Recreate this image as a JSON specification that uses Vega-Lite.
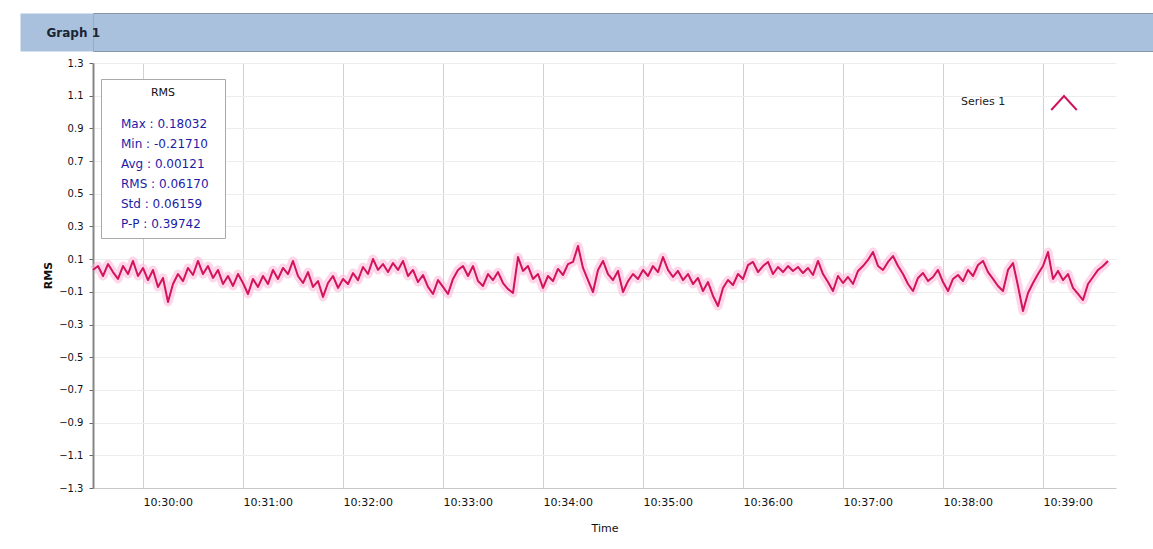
{
  "$schema": "https://vega.github.io/schema/vega-lite/v6.json",
  "padding": {"top": 12, "left": 0, "right": 0, "bottom": 0},
  "background": "#ffffff",
  "spacing": 6,
  "config": {"font": "DejaVu Sans", "view": {"stroke": null}},
  "datasets": {
    "bar": [{"title": "Graph 1"}],
    "stats": [
      {"label": "Max   : 0.18032"},
      {"label": "Min   : -0.21710"},
      {"label": "Avg   : 0.00121"},
      {"label": "RMS   : 0.06170"},
      {"label": "Std   : 0.06159"},
      {"label": "P-P   : 0.39742"}
    ],
    "rms": [
      {"t":0,"v":0.034},{"t":3,"v":0.058},{"t":6,"v":-0.003},{"t":9,"v":0.070},{"t":12,"v":0.021},{"t":15,"v":-0.021},{"t":18,"v":0.058},{"t":21,"v":0.009},{"t":24,"v":0.089},{"t":27,"v":-0.003},
      {"t":30,"v":0.046},{"t":33,"v":-0.028},{"t":36,"v":0.034},{"t":39,"v":-0.070},{"t":42,"v":-0.015},{"t":45,"v":-0.162},{"t":48,"v":-0.052},{"t":51,"v":0.009},{"t":54,"v":-0.034},{"t":57,"v":0.046},
      {"t":60,"v":0.003},{"t":63,"v":0.089},{"t":66,"v":0.009},{"t":69,"v":0.058},{"t":72,"v":-0.015},{"t":75,"v":0.034},{"t":78,"v":-0.052},{"t":81,"v":-0.003},{"t":84,"v":-0.064},{"t":87,"v":0.009},
      {"t":90,"v":-0.046},{"t":93,"v":-0.113},{"t":96,"v":-0.021},{"t":99,"v":-0.070},{"t":102,"v":-0.003},{"t":105,"v":-0.052},{"t":108,"v":0.034},{"t":111,"v":-0.021},{"t":114,"v":0.046},{"t":117,"v":0.009},
      {"t":120,"v":0.089},{"t":123,"v":-0.003},{"t":126,"v":-0.046},{"t":129,"v":0.021},{"t":132,"v":-0.070},{"t":135,"v":-0.034},{"t":138,"v":-0.131},{"t":141,"v":-0.046},{"t":144,"v":-0.003},{"t":147,"v":-0.076},
      {"t":150,"v":-0.021},{"t":153,"v":-0.052},{"t":156,"v":0.015},{"t":159,"v":-0.028},{"t":162,"v":0.052},{"t":165,"v":0.009},{"t":168,"v":0.101},{"t":171,"v":0.034},{"t":174,"v":0.070},{"t":177,"v":0.021},
      {"t":180,"v":0.076},{"t":183,"v":0.034},{"t":186,"v":0.089},{"t":189,"v":-0.003},{"t":192,"v":0.034},{"t":195,"v":-0.040},{"t":198,"v":0.003},{"t":201,"v":-0.070},{"t":204,"v":-0.113},{"t":207,"v":-0.028},
      {"t":210,"v":-0.070},{"t":213,"v":-0.113},{"t":216,"v":-0.021},{"t":219,"v":0.034},{"t":222,"v":0.058},{"t":225,"v":-0.003},{"t":228,"v":0.058},{"t":231,"v":-0.034},{"t":234,"v":-0.064},{"t":237,"v":0.009},
      {"t":240,"v":-0.028},{"t":243,"v":0.021},{"t":246,"v":-0.046},{"t":249,"v":-0.083},{"t":252,"v":-0.107},{"t":255,"v":0.113},{"t":258,"v":0.028},{"t":261,"v":0.058},{"t":264,"v":-0.021},{"t":267,"v":0.009},
      {"t":270,"v":-0.076},{"t":273,"v":-0.003},{"t":276,"v":-0.034},{"t":279,"v":0.040},{"t":282,"v":0.003},{"t":285,"v":0.070},{"t":288,"v":0.083},{"t":291,"v":0.180},{"t":294,"v":0.046},{"t":297,"v":-0.028},
      {"t":300,"v":-0.101},{"t":303,"v":0.034},{"t":306,"v":0.089},{"t":309,"v":0.009},{"t":312,"v":-0.028},{"t":315,"v":0.028},{"t":318,"v":-0.101},{"t":321,"v":-0.034},{"t":324,"v":0.009},{"t":327,"v":-0.021},
      {"t":330,"v":0.034},{"t":333,"v":-0.003},{"t":336,"v":0.058},{"t":339,"v":0.021},{"t":342,"v":0.113},{"t":345,"v":0.034},{"t":348,"v":-0.009},{"t":351,"v":0.028},{"t":354,"v":-0.028},{"t":357,"v":0.009},
      {"t":360,"v":-0.052},{"t":363,"v":-0.015},{"t":366,"v":-0.095},{"t":369,"v":-0.040},{"t":372,"v":-0.125},{"t":375,"v":-0.187},{"t":378,"v":-0.076},{"t":381,"v":-0.028},{"t":384,"v":-0.058},{"t":387,"v":0.009},
      {"t":390,"v":-0.021},{"t":393,"v":0.064},{"t":396,"v":0.083},{"t":399,"v":0.021},{"t":402,"v":0.058},{"t":405,"v":0.083},{"t":408,"v":0.009},{"t":411,"v":0.052},{"t":414,"v":0.021},{"t":417,"v":0.058},
      {"t":420,"v":0.028},{"t":423,"v":0.052},{"t":426,"v":0.015},{"t":429,"v":0.046},{"t":432,"v":0.003},{"t":435,"v":0.089},{"t":438,"v":0.009},{"t":441,"v":-0.040},{"t":444,"v":-0.095},{"t":447,"v":-0.003},
      {"t":450,"v":-0.046},{"t":453,"v":-0.009},{"t":456,"v":-0.052},{"t":459,"v":0.028},{"t":462,"v":0.058},{"t":465,"v":0.095},{"t":468,"v":0.144},{"t":471,"v":0.058},{"t":474,"v":0.034},{"t":477,"v":0.083},
      {"t":480,"v":0.119},{"t":483,"v":0.058},{"t":486,"v":0.009},{"t":489,"v":-0.052},{"t":492,"v":-0.095},{"t":495,"v":-0.015},{"t":498,"v":0.015},{"t":501,"v":-0.034},{"t":504,"v":-0.009},{"t":507,"v":0.034},
      {"t":510,"v":-0.040},{"t":513,"v":-0.095},{"t":516,"v":-0.021},{"t":519,"v":0.003},{"t":522,"v":-0.034},{"t":525,"v":0.034},{"t":528,"v":-0.003},{"t":531,"v":0.064},{"t":534,"v":0.089},{"t":537,"v":0.021},
      {"t":540,"v":-0.021},{"t":543,"v":-0.064},{"t":546,"v":-0.095},{"t":549,"v":0.034},{"t":552,"v":0.076},{"t":555,"v":-0.064},{"t":558,"v":-0.217},{"t":561,"v":-0.107},{"t":564,"v":-0.046},{"t":567,"v":0.009},
      {"t":570,"v":0.058},{"t":573,"v":0.144},{"t":576,"v":-0.021},{"t":579,"v":0.028},{"t":582,"v":-0.028},{"t":585,"v":0.009},{"t":588,"v":-0.076},{"t":591,"v":-0.113},{"t":594,"v":-0.150},{"t":597,"v":-0.052},
      {"t":600,"v":-0.009},{"t":603,"v":0.034},{"t":606,"v":0.058},{"t":609,"v":0.089}
    ]
  },
  "vconcat": [
    {
      "width": 1061,
      "height": 38,
      "data": {"name": "bar"},
      "view": {"fill": "#aac1de", "stroke": "#8796ab"},
      "mark": {"type": "point", "opacity": 0},
      "encoding": {
        "y": {
          "datum": 0.5, "type": "quantitative",
          "scale": {"domain": [0, 1], "nice": false},
          "axis": {
            "values": [0.5],
            "labels": false,
            "domain": false,
            "grid": false,
            "tickSize": 73,
            "tickWidth": 38,
            "tickColor": "#aac1de",
            "minExtent": 92,
            "maxExtent": 92,
            "title": "Graph 1",
            "titleAngle": 0,
            "titleX": -47,
            "titleY": 19,
            "titleAlign": "left",
            "titleBaseline": "middle",
            "titleFontSize": 12,
            "titleFontWeight": "bold",
            "titleColor": "#1a2533"
          }
        }
      }
    },
    {
      "width": 1023,
      "height": 425,
      "layer": [
        {
          "data": {"name": "rms"},
          "mark": {"type": "line", "color": "#ffb3d9", "strokeWidth": 9, "opacity": 0.55, "strokeJoin": "round"},
          "encoding": {
            "x": {
              "field": "t", "type": "quantitative",
              "scale": {"domain": [0, 613.8], "nice": false, "zero": false},
              "axis": {
                "title": "Time",
                "values": [30, 90, 150, 210, 270, 330, 390, 450, 510, 570],
                "labelExpr": "utcFormat(datum.value * 1000 + 37770000, '%H:%M:%S')",
                "labelAlign": "left",
                "labelOverlap": false,
                "labelFontSize": 11,
                "labelColor": "#111111",
                "labelPadding": 8,
                "tickSize": 0,
                "gridColor": "#d2d2d2",
                "domainColor": "#c8c8c8",
                "titleFontSize": 11,
                "titleFontWeight": "normal",
                "titleColor": "#111111",
                "titlePadding": 15
              }
            },
            "y": {
              "field": "v", "type": "quantitative",
              "scale": {"domain": [-1.3, 1.3], "nice": false, "zero": false},
              "axis": {
                "title": "RMS",
                "titleX": -40,
                "titleY": 212,
                "titleFontSize": 11,
                "titleFontWeight": "bold",
                "titleColor": "#111111",
                "minExtent": 92,
                "maxExtent": 92,
                "values": [-1.3, -1.1, -0.9, -0.7, -0.5, -0.3, -0.1, 0.1, 0.3, 0.5, 0.7, 0.9, 1.1, 1.3],
                "format": ".1f",
                "labelOverlap": false,
                "labelBound": false,
                "labelFontSize": 10,
                "labelColor": "#111111",
                "labelPadding": 6,
                "tickSize": 4,
                "tickColor": "#666666",
                "domainColor": "#858585",
                "domainWidth": 2,
                "gridColor": "#ededed"
              }
            }
          }
        },
        {
          "data": {"name": "rms"},
          "mark": {"type": "line", "strokeWidth": 2, "strokeJoin": "round"},
          "encoding": {
            "x": {
              "field": "t", "type": "quantitative",
              "scale": {"domain": [0, 613.8], "nice": false, "zero": false},
              "axis": {
                "title": "Time",
                "values": [30, 90, 150, 210, 270, 330, 390, 450, 510, 570],
                "labelExpr": "utcFormat(datum.value * 1000 + 37770000, '%H:%M:%S')",
                "labelAlign": "left",
                "labelOverlap": false,
                "labelFontSize": 11,
                "labelColor": "#111111",
                "labelPadding": 8,
                "tickSize": 0,
                "gridColor": "#d2d2d2",
                "domainColor": "#c8c8c8",
                "titleFontSize": 11,
                "titleFontWeight": "normal",
                "titleColor": "#111111",
                "titlePadding": 15
              }
            },
            "y": {
              "field": "v", "type": "quantitative",
              "scale": {"domain": [-1.3, 1.3], "nice": false, "zero": false},
              "axis": {
                "title": "RMS",
                "titleX": -40,
                "titleY": 212,
                "titleFontSize": 11,
                "titleFontWeight": "bold",
                "titleColor": "#111111",
                "minExtent": 92,
                "maxExtent": 92,
                "values": [-1.3, -1.1, -0.9, -0.7, -0.5, -0.3, -0.1, 0.1, 0.3, 0.5, 0.7, 0.9, 1.1, 1.3],
                "format": ".1f",
                "labelOverlap": false,
                "labelBound": false,
                "labelFontSize": 10,
                "labelColor": "#111111",
                "labelPadding": 6,
                "tickSize": 4,
                "tickColor": "#666666",
                "domainColor": "#858585",
                "domainWidth": 2,
                "gridColor": "#ededed"
              }
            },
            "color": {
              "datum": "Series 1",
              "scale": {"range": ["#d2145c"]},
              "legend": {
                "orient": "none",
                "legendX": 868,
                "legendY": 76,
                "title": "Series 1",
                "titleOrient": "left",
                "titleFontSize": 11,
                "titleFontWeight": "normal",
                "titleColor": "#222222",
                "titlePadding": 44,
                "symbolType": "M-1,0.55L0,-0.55L1,0.55",
                "symbolSize": 650,
                "symbolStrokeWidth": 2,
                "symbolFillColor": "transparent",
                "labelOpacity": 0,
                "labelLimit": 10,
                "labelOffset": 0
              }
            }
          }
        },
        {
          "data": {"name": "stats"},
          "mark": {"type": "point", "opacity": 0},
          "encoding": {
            "shape": {
              "field": "label", "type": "nominal", "sort": null,
              "legend": {
                "orient": "none",
                "legendX": 8,
                "legendY": 66,
                "title": "RMS",
                "titleAnchor": "middle",
                "titleFontSize": 11,
                "titleFontWeight": "normal",
                "titleColor": "#111111",
                "titlePadding": 20,
                "padding": 8,
                "strokeColor": "#a9a9a9",
                "fillColor": "#ffffff",
                "symbolOpacity": 0,
                "symbolSize": 1,
                "symbolStrokeWidth": 0,
                "labelColor": "#1c1ca6",
                "labelFontSize": 12,
                "labelOffset": 0,
                "rowPadding": 8,
                "labelLimit": 200
              }
            }
          }
        }
      ]
    }
  ]
}
